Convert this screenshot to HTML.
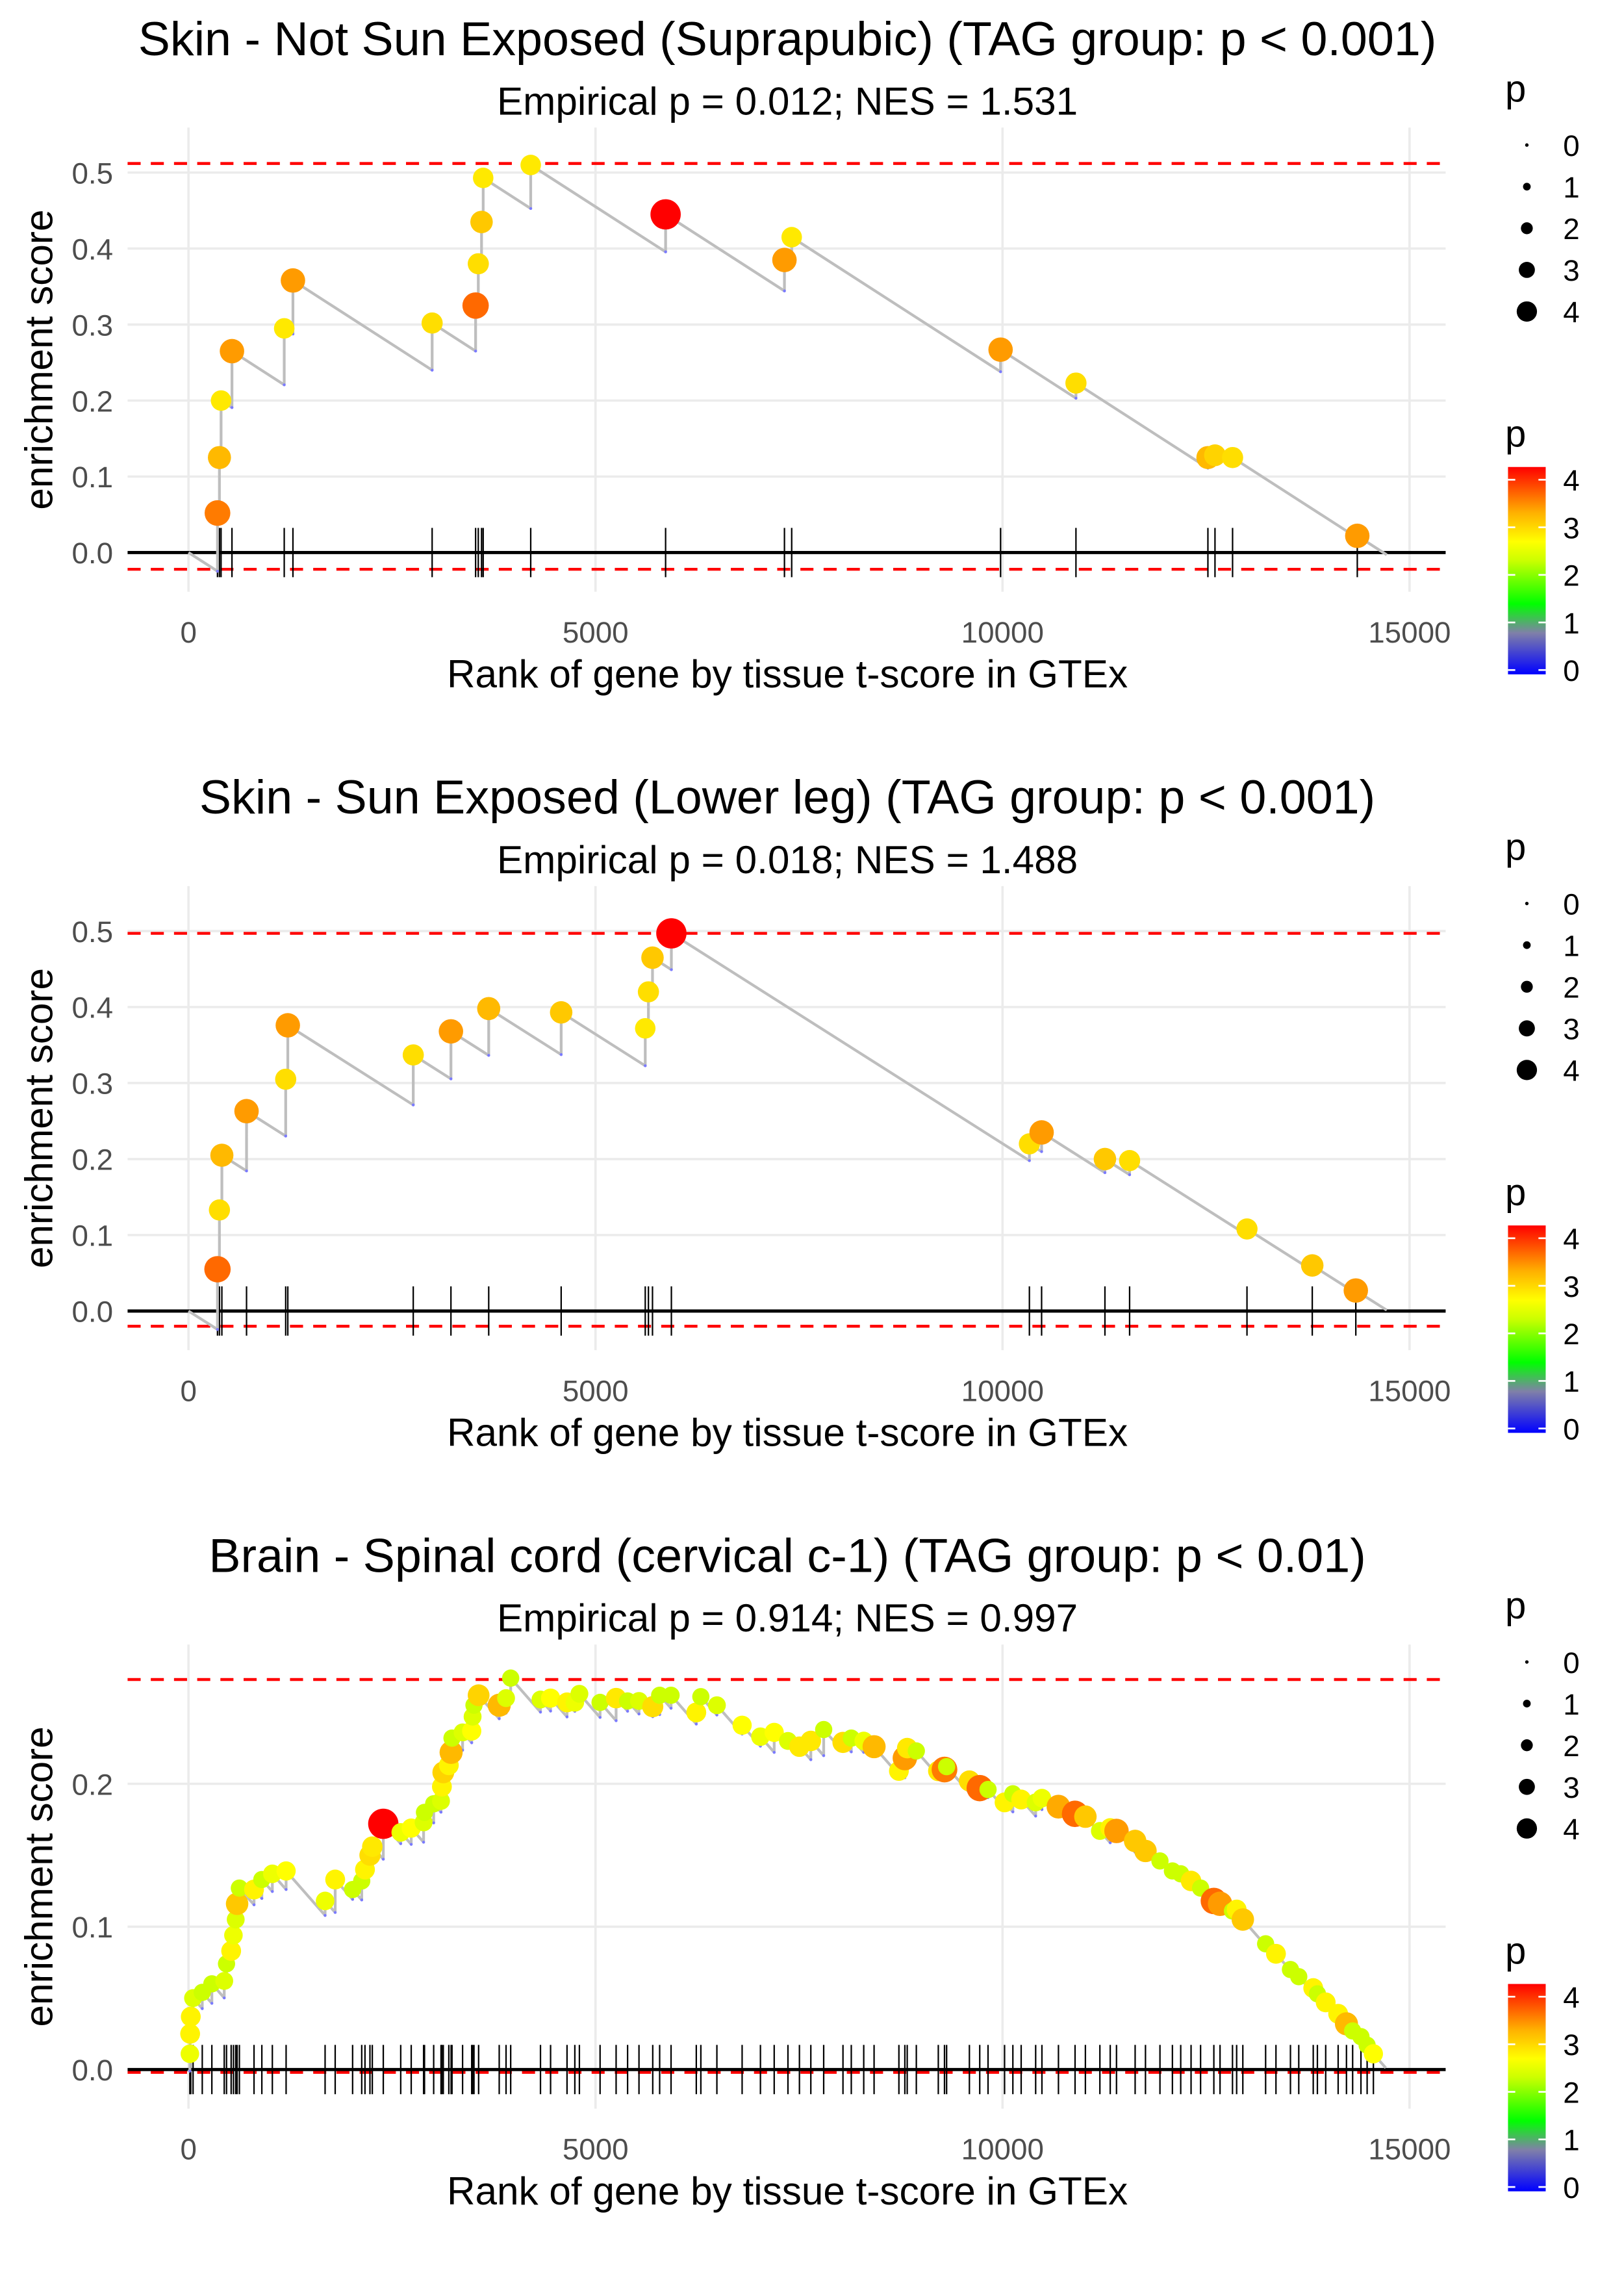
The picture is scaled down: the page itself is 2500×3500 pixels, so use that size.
<!DOCTYPE html>
<html><head><meta charset="utf-8"><style>
html,body{margin:0;padding:0;background:#fff}
svg{display:block}
text{font-family:"Liberation Sans",Arial,sans-serif}
</style></head><body>
<svg id="chart" xmlns="http://www.w3.org/2000/svg" width="2500" height="3500" viewBox="0 0 1120 1568">
<defs>
<linearGradient id="pgrad" x1="0" y1="1" x2="0" y2="0">
<stop offset="0%" stop-color="#0000ff"/>
<stop offset="20%" stop-color="#8080a8"/>
<stop offset="34%" stop-color="#00ff00"/>
<stop offset="55%" stop-color="#ccff00"/>
<stop offset="64%" stop-color="#ffff00"/>
<stop offset="78%" stop-color="#ffb000"/>
<stop offset="100%" stop-color="#ff0000"/>
</linearGradient>
</defs>
</svg>
<script>
const titles = ["Skin - Not Sun Exposed (Suprapubic) (TAG group: p < 0.001)","Skin - Sun Exposed (Lower leg) (TAG group: p < 0.001)","Brain - Spinal cord (cervical c-1) (TAG group: p < 0.01)"];
const subtitles = ["Empirical p = 0.012; NES = 1.531","Empirical p = 0.018; NES = 1.488","Empirical p = 0.914; NES = 0.997"];
const xTicks = [0,5000,10000,15000];
const xTickLabels = ["0","5000","10000","15000"];
const yTicks1 = [0,0.1,0.2,0.3,0.4,0.5];
const yTickLabels1 = ["0.0","0.1","0.2","0.3","0.4","0.5"];
const yTicks3 = [0,0.1,0.2];
const yTickLabels3 = ["0.0","0.1","0.2"];
const legendP = [0,1,2,3,4];
const legendLabels = ["0","1","2","3","4"];

const ranks1 = [356,380,400,534,1176,1283,2993,3527,3560,3600,3620,4204,5861,7321,7410,9976,10902,12523,12610,12826,14358];
const top1 = [0.052,0.125,0.2,0.265,0.295,0.358,0.302,0.325,0.38,0.435,0.493,0.51,0.445,0.385,0.415,0.267,0.223,0.125,0.128,0.125,0.022];
const p1 = [3.5,3.1,2.7,3.3,2.7,3.3,2.8,3.6,2.8,3.0,2.7,2.7,4.2,3.3,2.7,3.3,2.8,3.1,2.9,2.8,3.3];
const maxES1 = 0.512, minES1 = -0.022;

const ranks2 = [356,380,410,713,1194,1220,2761,3224,3688,4578,5611,5650,5700,5932,10330,10480,11258,11561,13003,13805,14340];
const top2 = [0.055,0.133,0.205,0.263,0.305,0.376,0.337,0.368,0.398,0.393,0.372,0.42,0.465,0.497,0.22,0.235,0.2,0.198,0.108,0.06,0.027];
const p2 = [3.6,2.8,3.1,3.3,2.8,3.3,2.8,3.3,3.1,3.0,2.7,2.8,3.0,4.2,2.8,3.3,3.0,2.8,2.8,3.0,3.3];
const maxES2 = 0.497, minES2 = -0.02;

const ranks3 = [17,20,28,56,169,287,439,467,524,552,580,597,625,805,901,1030,1199,1678,1802,2016,2128,2168,2229,2258,2393,2607,2736,2888,2899,3012,3102,3113,3130,3198,3226,3237,3367,3479,3490,3507,3564,3817,3901,3958,4324,4448,4650,4746,4802,5056,5253,5394,5534,5703,5788,5928,6238,6294,6491,6801,7026,7195,7364,7505,7645,7803,8040,8142,8295,8422,8727,8800,8829,8941,9211,9287,9313,9593,9720,9822,10025,10127,10229,10407,10484,10687,10891,11018,11196,11323,11400,11629,11756,11934,12087,12189,12316,12433,12596,12672,12825,12876,12952,13232,13359,13537,13639,13817,13868,13970,14123,14225,14301,14403,14479,14556];
const top3 = [0.011,0.025,0.037,0.05,0.054,0.06,0.062,0.074,0.083,0.094,0.105,0.116,0.127,0.126,0.133,0.137,0.139,0.118,0.133,0.126,0.132,0.140,0.150,0.156,0.172,0.166,0.169,0.173,0.180,0.186,0.188,0.198,0.208,0.213,0.222,0.232,0.236,0.237,0.247,0.255,0.262,0.255,0.260,0.274,0.259,0.260,0.257,0.257,0.263,0.257,0.260,0.258,0.258,0.254,0.262,0.262,0.250,0.261,0.255,0.241,0.233,0.236,0.230,0.226,0.230,0.238,0.229,0.232,0.230,0.226,0.209,0.218,0.225,0.223,0.209,0.210,0.212,0.202,0.197,0.196,0.187,0.193,0.189,0.187,0.190,0.184,0.179,0.177,0.167,0.169,0.167,0.160,0.153,0.146,0.139,0.137,0.132,0.127,0.118,0.116,0.111,0.112,0.105,0.088,0.081,0.070,0.065,0.057,0.053,0.047,0.039,0.032,0.027,0.023,0.017,0.011];
const p3 = [2.4,2.6,2.6,2.3,2.2,2.2,2.3,2.2,2.6,2.4,2.3,3.0,2.2,2.6,2.2,2.4,2.5,2.4,2.6,2.2,2.2,2.6,2.8,2.7,4.2,2.4,2.5,2.3,2.2,2.2,2.3,2.6,2.9,2.6,3.1,2.2,2.3,2.5,2.3,2.2,2.9,3.1,2.3,2.2,2.3,2.5,2.6,2.4,2.3,2.2,2.7,2.2,2.3,2.8,2.2,2.2,2.6,2.2,2.3,2.5,2.4,2.5,2.3,2.7,2.7,2.2,2.8,2.2,2.4,3.1,2.6,3.3,2.7,2.2,2.7,3.5,2.2,2.8,3.6,2.2,2.6,2.2,2.6,2.3,2.4,3.2,3.6,3.0,2.3,2.6,3.3,3.0,3.0,2.2,2.2,2.2,2.7,2.2,3.6,3.3,2.2,2.6,3.0,2.2,2.6,2.2,2.2,2.6,2.2,2.6,2.6,3.1,2.2,2.2,2.2,2.5];
const maxES3 = 0.273, minES3 = -0.002;

const NS = "http://www.w3.org/2000/svg";
const svg = document.getElementById('chart');
function mk(tag, attrs, parent){
  const e = document.createElementNS(NS, tag);
  for (const k in attrs) e.setAttribute(k, attrs[k]);
  (parent||svg).appendChild(e);
  return e;
}
function txt(s, attrs, parent){ const t = mk('text', attrs, parent); t.textContent = s; return t; }

const stopsP = [0,0.8,1.4,2.2,2.5,3.0,3.4,4.2];
const stopsC = [[0,0,255],[128,128,168],[0,255,0],[204,255,0],[255,255,0],[255,200,0],[255,140,0],[255,0,0]];
function pColor(p){
  if (p<=stopsP[0]) return 'rgb(0,0,255)';
  for (let i=1;i<stopsP.length;i++){
    if (p<=stopsP[i]){
      const t=(p-stopsP[i-1])/(stopsP[i]-stopsP[i-1]);
      const a=stopsC[i-1], b=stopsC[i];
      return 'rgb('+a.map((v,j)=>Math.round(v+(b[j]-v)*t)).join(',')+')';
    }
  }
  return 'rgb(255,0,0)';
}
function pRadius(p){ return 1 + 2.25*p; }
function legendRadius(p){ return 1.2 + 1.45*p; }

function drawPanel(idx, oy, ranks, tops, ps, maxES, minES, yTicks, yLabels, y0, yPer, slope, endRank){
  const g = mk('g', {});
  
  
  const X = r => 130 + r*280.7/5000;
  const Y = v => y0 - v*yPer;
  const L = 88, R = 997, T = 88+oy, B = 408+oy;
  const tt = txt(titles[idx], {x:543, y:38+oy, 'text-anchor':'middle', 'font-size':33, fill:'#000'}, g);
  
  
  const st = txt(subtitles[idx], {x:543, y:79+oy, 'text-anchor':'middle', 'font-size':27, fill:'#000'}, g);
  
  
  xTicks.forEach((v,i)=>{
    const ln = mk('line', {x1:X(v), x2:X(v), y1:T, y2:B, stroke:'#ebebeb', 'stroke-width':1.6}, g);
    
    
    const lb = txt(xTickLabels[i], {x:X(v), y:B+35, 'text-anchor':'middle', 'font-size':20.5, fill:'#4d4d4d'}, g);
    
    
  });
  yTicks.forEach((v,i)=>{
    const ln = mk('line', {x1:L, x2:R, y1:Y(v), y2:Y(v), stroke:'#ebebeb', 'stroke-width':1.6}, g);
    
    
    const lb = txt(yLabels[i], {x:78, y:Y(v)+7.5, 'text-anchor':'end', 'font-size':20.5, fill:'#4d4d4d'}, g);
    
    
  });
  const xt = txt('Rank of gene by tissue t-score in GTEx', {x:543, y:B+66, 'text-anchor':'middle', 'font-size':27, fill:'#000'}, g);
  
  
  const yt = txt('enrichment score', {x:0, y:0, 'text-anchor':'middle', 'font-size':27, fill:'#000', transform:'translate(36,'+((T+B)/2)+') rotate(-90)'}, g);
  
  
  [maxES, minES].forEach(v=>{
    const d = mk('line', {x1:L, x2:R, y1:Y(v), y2:Y(v), stroke:'#ff0000', 'stroke-width':2, 'stroke-dasharray':'9,7'}, g);
    
    
  });
  ranks.forEach(r=>{
    const t = mk('line', {x1:X(r), x2:X(r), y1:Y(0)-17, y2:Y(0)+17, stroke:'#000', 'stroke-width':1}, g);
    
    
  });
  const z = mk('line', {x1:L, x2:R, y1:Y(0), y2:Y(0), stroke:'#000', 'stroke-width':2.2}, g);
  
  
  let d = 'M'+X(0)+','+Y(0);
  let prevR = 0, prevT = 0;
  const bottoms = [];
  ranks.forEach((r,i)=>{
    const b = Math.min(tops[i], prevT - slope*(r-prevR));
    bottoms.push(b);
    d += ' L'+X(r).toFixed(2)+','+Y(b).toFixed(2)+' L'+X(r).toFixed(2)+','+Y(tops[i]).toFixed(2);
    prevR = r; prevT = tops[i];
  });
  d += ' L'+X(endRank)+','+Y(prevT - slope*(endRank-prevR));
  const path = mk('path', {d:d, fill:'none', stroke:'#bebebe', 'stroke-width':1.9, 'stroke-linejoin':'round'}, g);
  
  
  ranks.forEach((r,i)=>{
    const c = mk('circle', {cx:X(r), cy:Y(bottoms[i]), r:1, fill:'#7a7aff'}, g);
    
    
  });
  ranks.forEach((r,i)=>{
    const c = mk('circle', {cx:X(r), cy:Y(tops[i]), r:pRadius(ps[i]), fill:pColor(ps[i])}, g);
    
    
  });
  const lt = txt('p', {x:1038, y:70+oy, 'font-size':26, fill:'#000'}, g);
  
  
  legendP.forEach((p,i)=>{
    const cy = 100 + i*28.7 + oy;
    const c = mk('circle', {cx:1053, cy:cy, r:legendRadius(p), fill:'#000'}, g);
    
    
    const l = txt(legendLabels[i], {x:1078, y:cy+7.5, 'font-size':20.5, fill:'#000'}, g);
    
    
  });
  const ct = txt('p', {x:1038, y:308+oy, 'font-size':26, fill:'#000'}, g);
  
  
  const bar = mk('rect', {x:1040, y:322+oy, width:26, height:143, fill:'url(#pgrad)'}, g);
  
  
  legendP.forEach((p,i)=>{
    const cy = 462 - p*32.8 + oy;
    [[1040,1045],[1061,1066]].forEach(s=>{
      const tk = mk('line', {x1:s[0], x2:s[1], y1:cy, y2:cy, stroke:'#fff', 'stroke-width':1.2}, g);
      
      
    });
    const l = txt(legendLabels[i], {x:1078, y:cy+7.5, 'font-size':20.5, fill:'#000'}, g);
    
    
  });
}
drawPanel(0, 0, ranks1, top1, p1, maxES1, minES1, yTicks1, yTickLabels1, 381, 524, 6.9e-5, 14720);
drawPanel(1, 523, ranks2, top2, p2, maxES2, minES2, yTicks1, yTickLabels1, 904, 524, 6.8e-5, 14720);
drawPanel(2, 1046, ranks3, top3, p3, maxES3, minES3, yTicks3, yTickLabels3, 1427, 985, 6.5e-5, 14708);
</script>
</body></html>
